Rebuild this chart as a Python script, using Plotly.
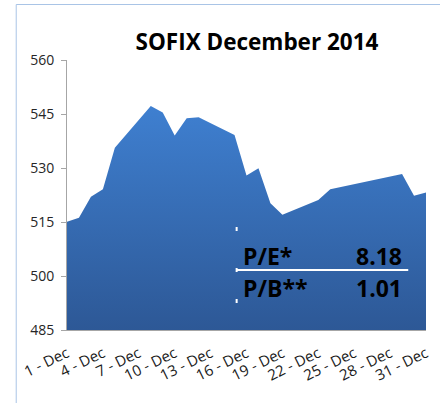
import plotly.graph_objects as go

dates = ["2014-12-01", "2014-12-02", "2014-12-03", "2014-12-04", "2014-12-05",
         "2014-12-08", "2014-12-09", "2014-12-10", "2014-12-11", "2014-12-12",
         "2014-12-15", "2014-12-16", "2014-12-17", "2014-12-18", "2014-12-19",
         "2014-12-22", "2014-12-23", "2014-12-29", "2014-12-30", "2014-12-31"]
sofix = [515.1, 516.2, 522.0, 524.1, 535.6,
         547.2, 545.4, 539.0, 543.8, 544.1,
         539.2, 527.9, 529.9, 520.2, 517.0,
         521.1, 524.1, 528.3, 522.3, 523.2]

tick_dates = ["2014-12-01", "2014-12-04", "2014-12-07", "2014-12-10", "2014-12-13",
              "2014-12-16", "2014-12-19", "2014-12-22", "2014-12-25", "2014-12-28",
              "2014-12-31"]
tick_labels = ["1 - Dec", "4 - Dec", "7 - Dec", "10 - Dec", "13 - Dec", "16 - Dec",
               "19 - Dec", "22 - Dec", "25 - Dec", "28 - Dec", "31 - Dec"]

ratio_names = ["P/E*", "P/B**"]
ratio_values = ["8.18", "1.01"]

y_min, y_max = 485, 560
FONT = "Open Sans"

fig = go.Figure()
fig.add_trace(go.Scatter(
    x=dates, y=[y_min] * len(dates), mode="lines",
    line=dict(width=0), showlegend=False, hoverinfo="skip"))
fig.add_trace(go.Scatter(
    x=dates, y=sofix, mode="lines", fill="tonexty",
    line=dict(width=0, color="#3e7ecd"),
    fillgradient=dict(type="vertical", start=y_min, stop=548,
                      colorscale=[[0, "#2d5896"], [1, "#3f80d1"]]),
    showlegend=False))

W, H = 440, 403
L, R, T, B = 67, 9, 60, 73
pw, ph = W - L - R, H - T - B

def px(x):
    return (x - L) / pw

def py(y):
    return 1 - (y - T) / ph

annotations = []
row_y = [256, 288]
for name, val, yy in zip(ratio_names, ratio_values, row_y):
    annotations.append(dict(text=name, x=px(243), y=py(yy), xref="paper", yref="paper",
                            xanchor="left", yanchor="middle", showarrow=False,
                            font=dict(family=FONT, size=23, color="#000000", weight="bold")))
    annotations.append(dict(text=val, x=px(409), y=py(yy), xref="paper", yref="paper",
                            xanchor="right", yanchor="middle", showarrow=False,
                            font=dict(family=FONT, size=23, color="#000000", weight="bold")))

shapes = [
    # chart border
    dict(type="rect", xref="paper", yref="paper", x0=px(15.5), x1=px(460), y0=py(430), y1=py(4.5),
         line=dict(color="#a9c4e6", width=1), fillcolor="rgba(0,0,0,0)", layer="below"),
    # divider line
    dict(type="line", xref="paper", yref="paper", x0=px(239), x1=px(413), y0=py(270), y1=py(270),
         line=dict(color="#ffffff", width=2)),
    dict(type="line", xref="paper", yref="paper", x0=px(239), x1=px(239), y0=py(227), y1=py(231),
         line=dict(color="#ffffff", width=2)),
    dict(type="line", xref="paper", yref="paper", x0=px(239), x1=px(239), y0=py(299), y1=py(303),
         line=dict(color="#ffffff", width=2)),
    dict(type="line", xref="paper", yref="paper", x0=px(239), x1=px(239), y0=py(268), y1=py(272),
         line=dict(color="#ffffff", width=2)),
]

fig.update_layout(
    width=W, height=H,
    margin=dict(l=L, r=R, t=T, b=B),
    paper_bgcolor="#ffffff", plot_bgcolor="#ffffff",
    title=dict(text="<b>SOFIX December 2014</b>", x=257 / W, xanchor="center",
               y=1 - 42 / H, yanchor="middle", yref="container",
               font=dict(family=FONT, size=22.5, color="#000000")),
    xaxis=dict(type="date", range=["2014-12-01", "2014-12-31"],
               tickvals=tick_dates, ticktext=tick_labels, tickangle=-26,
               showgrid=False, zeroline=False, showline=True, linecolor="#a6a6a6",
               ticks="", ticklabelstandoff=8,
               tickfont=dict(family=FONT, size=15, color="#1a1a1a")),
    yaxis=dict(range=[y_min, y_max], dtick=15, tick0=485, showgrid=False, zeroline=False,
               showline=True, linecolor="#a6a6a6", ticks="outside", ticklen=5,
               tickcolor="#a6a6a6", ticklabelstandoff=4,
               tickfont=dict(family=FONT, size=14, color="#262626")),
    annotations=annotations, shapes=shapes,
)

fig.write_html("out.html", config={"displayModeBar": False},
               post_script="document.body.style.margin='0';document.body.style.padding='0';")
